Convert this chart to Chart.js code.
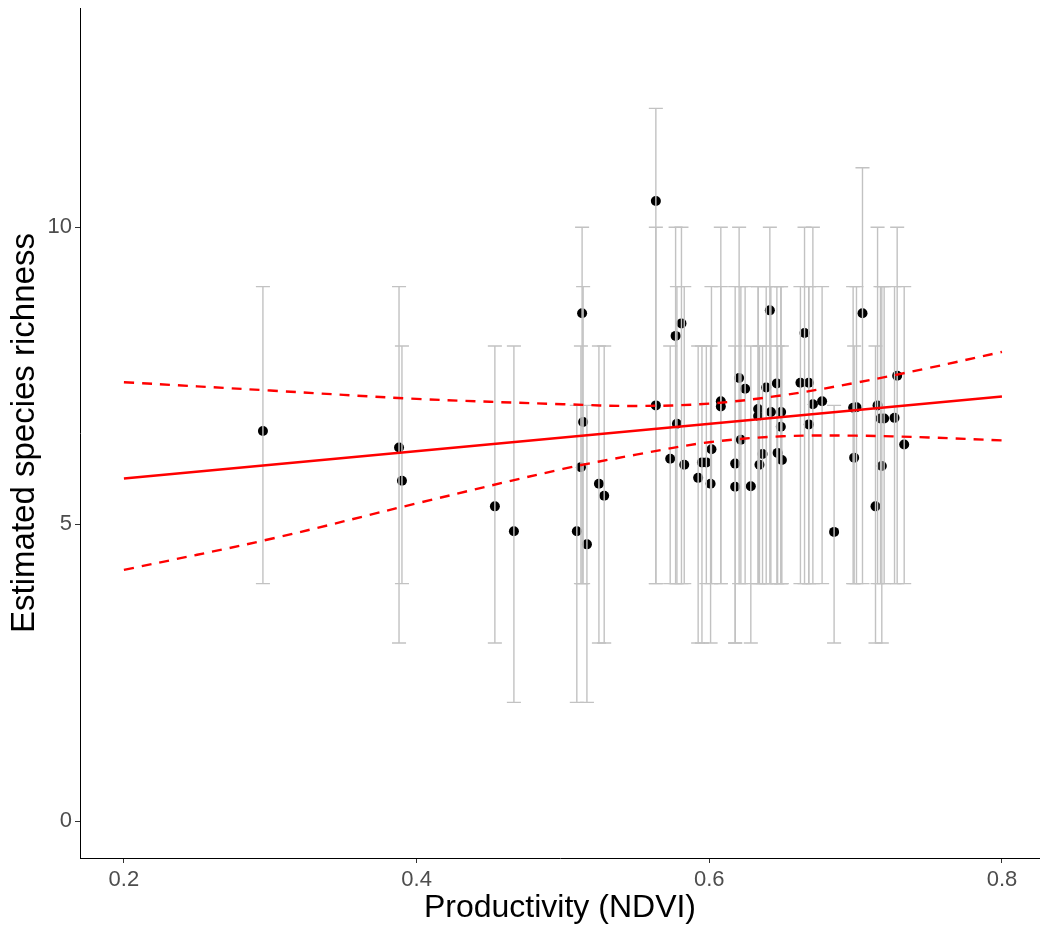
<!DOCTYPE html>
<html>
<head>
<meta charset="utf-8">
<script src="https://cdn.jsdelivr.net/npm/chart.js@4.4.1/dist/chart.umd.min.js"></script>
<style>
  html, body { margin: 0; padding: 0; background: #fff; }
  canvas { display: block; }
</style>
</head>
<body>
<canvas id="richnessChart" width="1040" height="930"></canvas>
<script>
// ======================================================
// DATA
// ======================================================
const ndvi = [
  0.295, 0.388, 0.390, 0.4535, 0.4665,
  0.5095, 0.5123, 0.5131, 0.5138, 0.5164, 0.5246, 0.5282,
  0.5635, 0.5635, 0.577, 0.581, 0.5779, 0.5733, 0.5829,
  0.5924, 0.595, 0.598, 0.6009, 0.6015, 0.6079, 0.6079,
  0.6177, 0.6177, 0.6204, 0.6245, 0.6216, 0.6284,
  0.6334, 0.6334, 0.6389, 0.6364, 0.6343, 0.6414, 0.6421,
  0.6462, 0.6491, 0.6489, 0.6467, 0.6496,
  0.6651, 0.6623, 0.668, 0.6708, 0.6771, 0.668, 0.6853,
  0.6983, 0.7006, 0.699, 0.7047, 0.715, 0.7136, 0.7179,
  0.717, 0.7195, 0.7266, 0.7284, 0.7332
];
const richness = [
  6.57, 6.29, 5.73, 5.30, 4.88,
  4.88, 5.96, 8.55, 6.72, 4.66, 5.68, 5.48,
  10.44, 7.00, 8.17, 8.38, 6.69, 6.10, 6.00,
  5.78, 6.04, 6.04, 5.68, 6.26, 7.07, 6.98,
  6.02, 5.63, 7.46, 7.28, 6.42, 5.64,
  6.94, 6.82, 7.30, 6.18, 6.00, 8.60, 6.89,
  7.37, 6.89, 6.64, 6.20, 6.08,
  8.22, 7.38, 7.38, 7.02, 7.07, 6.68, 4.87,
  6.96, 6.97, 6.12, 8.55, 7.00, 5.30, 5.98,
  6.78, 6.78, 6.79, 7.50, 6.34
];
const lowerCI = [
  4, 3, 4, 3, 2,
  2, 4, 4, 4, 2, 3, 3,
  4, 4, 4, 4, 4, 4, 4,
  3, 3, 4, 3, 4, 4, 4,
  3, 3, 4, 4, 4, 3,
  4, 4, 4, 4, 4, 4, 4,
  4, 4, 4, 4, 4,
  4, 4, 4, 4, 4, 4, 3,
  4, 4, 4, 4, 4, 3, 3,
  4, 4, 4, 4, 4
];
const upperCI = [
  9, 9, 8, 8, 8,
  7, 8, 10, 9, 7, 8, 8,
  12, 10, 10, 10, 9, 8, 9,
  8, 8, 8, 8, 9, 10, 9,
  9, 8, 10, 9, 9, 8,
  9, 9, 9, 8, 8, 10, 9,
  9, 9, 9, 8, 8,
  10, 9, 9, 10, 9, 9, 7,
  9, 9, 8, 11, 10, 8, 9,
  9, 9, 9, 10, 9
];

// fitted line and its confidence band
const fitX = [0.2, 0.8];
const fitY = [5.77, 7.15];
const bandX = [0.2, 0.3, 0.4, 0.5, 0.55, 0.6, 0.65, 0.7, 0.75, 0.8];
const bandUpper = [7.39, 7.25, 7.11, 7.02, 6.99, 7.03, 7.17, 7.38, 7.63, 7.90];
const bandLower = [4.23, 4.75, 5.35, 5.93, 6.17, 6.38, 6.48, 6.49, 6.46, 6.41];

const xTicks = [0.2, 0.4, 0.6, 0.8];
const yTicks = [0, 5, 10];

// ======================================================
// HELPERS
// ======================================================
const zip = (xs, ys) => xs.map((x, i) => ({ x, y: ys[i] }));

const FONT = "'Liberation Sans', Arial, Helvetica, sans-serif";
const CAP_HALF = 0.0048;   // half width of error bar caps, in NDVI units

// error bars drawn right after the points so they sit on top of them
const errorBars = {
  id: "errorBars",
  afterDatasetDraw(chart, args) {
    if (args.index !== 0) return;
    const { ctx, scales: { x, y }, chartArea } = chart;
    ctx.save();
    ctx.beginPath();
    ctx.rect(chartArea.left, chartArea.top, chartArea.width, chartArea.height);
    ctx.clip();
    ctx.strokeStyle = "#c2c2c2";
    ctx.lineWidth = 1.4;
    ndvi.forEach((v, i) => {
      const px = x.getPixelForValue(v);
      const l = x.getPixelForValue(v - CAP_HALF);
      const r = x.getPixelForValue(v + CAP_HALF);
      const top = y.getPixelForValue(upperCI[i]);
      const bot = y.getPixelForValue(lowerCI[i]);
      ctx.beginPath();
      ctx.moveTo(px, top); ctx.lineTo(px, bot);
      ctx.moveTo(l, top); ctx.lineTo(r, top);
      ctx.moveTo(l, bot); ctx.lineTo(r, bot);
      ctx.stroke();
    });
    ctx.restore();
  }
};

// ======================================================
// CHART
// ======================================================
const ctx = document.getElementById("richnessChart").getContext("2d");

new Chart(ctx, {
  type: "scatter",
  data: {
    datasets: [
      {
        label: "sites",
        data: zip(ndvi, richness),
        pointRadius: 5,
        pointBackgroundColor: "#000",
        pointBorderWidth: 0,
        order: 3
      },
      {
        label: "fit",
        type: "line",
        data: zip(fitX, fitY),
        borderColor: "#ff0000",
        borderWidth: 2.6,
        pointRadius: 0,
        fill: false,
        order: 1
      },
      {
        label: "upper",
        type: "line",
        data: zip(bandX, bandUpper),
        borderColor: "#ff0000",
        borderWidth: 2.4,
        borderDash: [10, 8],
        tension: 0.35,
        pointRadius: 0,
        fill: false,
        order: 2
      },
      {
        label: "lower",
        type: "line",
        data: zip(bandX, bandLower),
        borderColor: "#ff0000",
        borderWidth: 2.4,
        borderDash: [10, 8],
        tension: 0.35,
        pointRadius: 0,
        fill: false,
        order: 2
      }
    ]
  },
  options: {
    responsive: false,
    animation: false,
    layout: {
      autoPadding: false,
      padding: { top: 8, right: 0, left: 0, bottom: 0 }
    },
    plugins: {
      legend: { display: false },
      tooltip: { enabled: false }
    },
    scales: {
      x: {
        type: "linear",
        min: 0.17,
        max: 0.826,
        afterFit: s => {
          s.height = 72;
          s.paddingLeft = 0;
          s.paddingRight = 0;
        },
        afterBuildTicks: s => { s.ticks = xTicks.map(v => ({ value: v })); },
        ticks: {
          callback: v => v.toFixed(1),
          color: "#4d4d4d",
          font: { family: FONT, size: 22 },
          padding: 4,
          maxRotation: 0
        },
        grid: {
          drawOnChartArea: false,
          drawTicks: true,
          tickLength: 5,
          color: "#333"
        },
        border: { display: true, color: "#000", width: 1 },
        title: {
          display: true,
          text: "Productivity (NDVI)",
          color: "#000",
          font: { family: FONT, size: 32 },
          padding: { top: 0, bottom: 3 }
        }
      },
      y: {
        type: "linear",
        min: -0.62,
        max: 13.69,
        afterFit: s => {
          s.width = 80;
          s.paddingTop = 0;
          s.paddingBottom = 0;
        },
        afterBuildTicks: s => { s.ticks = yTicks.map(v => ({ value: v })); },
        ticks: {
          color: "#4d4d4d",
          font: { family: FONT, size: 22 },
          padding: 3
        },
        grid: {
          drawOnChartArea: false,
          drawTicks: true,
          tickLength: 5,
          color: "#333"
        },
        border: { display: true, color: "#000", width: 1 },
        title: {
          display: true,
          text: "Estimated species richness",
          color: "#000",
          font: { family: FONT, size: 33 },
          padding: { top: 5, bottom: 0 }
        }
      }
    }
  },
  plugins: [errorBars]
});
</script>
</body>
</html>
